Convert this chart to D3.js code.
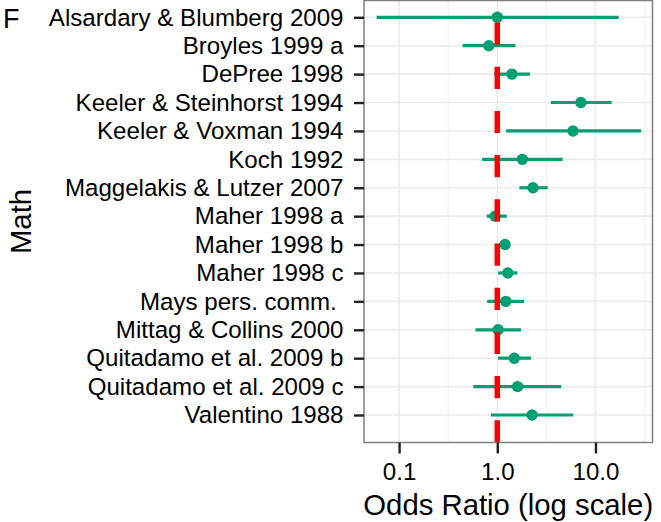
<!DOCTYPE html>
<html lang="en">
<head>
<meta charset="UTF-8">
<title>Odds ratios - Math</title>
<script src="https://cdn.jsdelivr.net/npm/d3@7"></script>
<style>
  body { margin: 0; background: #fff; }
  text { font-family: "Liberation Sans", Arial, sans-serif; fill: #000; }
</style>
</head>
<body>
<div id="box"></div>
<script>
// data
const studies = ["Alsardary & Blumberg 2009", "Broyles 1999 a", "DePree 1998",
  "Keeler & Steinhorst 1994", "Keeler & Voxman 1994", "Koch 1992",
  "Maggelakis & Lutzer 2007", "Maher 1998 a", "Maher 1998 b", "Maher 1998 c",
  "Mays pers. comm. ", "Mittag & Collins 2000", "Quitadamo et al. 2009 b",
  "Quitadamo et al. 2009 c", "Valentino 1988"];
const oddsRatio = [1.0, 0.82, 1.41, 7.1, 5.9, 1.8, 2.31, 0.95, 1.2, 1.28, 1.22, 1.02, 1.49, 1.61, 2.26];
const lower     = [0.059, 0.444, 0.93, 3.52, 1.23, 0.70, 1.68, 0.78, 1.05, 1.02, 0.79, 0.60, 1.02, 0.57, 0.86];
const upper     = [17.2, 1.53, 2.15, 14.6, 29.1, 4.63, 3.26, 1.25, 1.33, 1.60, 1.87, 1.74, 2.20, 4.45, 5.94];
const xTicks = [0.1, 1, 10];
const xMinor = [0.316, 3.16, 31.6];
const nullValue = 1;

const svg = d3.select("#box").append("svg").attr("width", 661).attr("height", 522);
svg.append("rect").attr("width", 661).attr("height", 522).attr("fill", "#fff");

const panel = {left: 364, right: 652.5, top: 0.5, bottom: 442.5};
const fontSize = 24.1;

// scales
const x = d3.scaleLog().domain([0.0439, 38.1]).range([panel.left, panel.right]);
const y = d3.scalePoint().domain(studies).range([17.3, 415]);

const rows = studies.map((s, i) => ({name: s, or: oddsRatio[i], lo: lower[i], hi: upper[i]}));

// panel background + grid
svg.append("rect")
  .attr("x", panel.left).attr("y", panel.top)
  .attr("width", panel.right - panel.left).attr("height", panel.bottom - panel.top)
  .attr("fill", "#fff");

svg.append("g").selectAll("line").data(xMinor).join("line")
  .attr("x1", d => x(d)).attr("x2", d => x(d))
  .attr("y1", panel.top).attr("y2", panel.bottom)
  .attr("stroke", "#f3f3f3").attr("stroke-width", 1.2);

svg.append("g").selectAll("line").data(xTicks).join("line")
  .attr("x1", d => x(d)).attr("x2", d => x(d))
  .attr("y1", panel.top).attr("y2", panel.bottom)
  .attr("stroke", "#ebebeb").attr("stroke-width", 1.6);

svg.append("g").selectAll("line").data(studies).join("line")
  .attr("x1", panel.left).attr("x2", panel.right)
  .attr("y1", d => y(d)).attr("y2", d => y(d))
  .attr("stroke", "#ebebeb").attr("stroke-width", 1.6);

// confidence intervals
const green = "#009e73";
svg.append("g").selectAll("line").data(rows).join("line")
  .attr("x1", d => x(d.lo)).attr("x2", d => x(d.hi))
  .attr("y1", d => y(d.name)).attr("y2", d => y(d.name))
  .attr("stroke", green).attr("stroke-width", 3.2);

svg.append("g").selectAll("circle").data(rows).join("circle")
  .attr("cx", d => x(d.or)).attr("cy", d => y(d.name))
  .attr("r", 5.7).attr("fill", green);

// dashed line at OR = 1, drawn bottom to top so the dashes start at the bottom
svg.append("line")
  .attr("x1", x(nullValue)).attr("x2", x(nullValue))
  .attr("y1", panel.bottom).attr("y2", panel.top)
  .attr("stroke", "#ff0000").attr("stroke-width", 5.5)
  .attr("stroke-dasharray", "22.2,22");

// border
svg.append("rect")
  .attr("x", panel.left).attr("y", panel.top)
  .attr("width", panel.right - panel.left).attr("height", panel.bottom - panel.top)
  .attr("fill", "none").attr("stroke", "#7f7f7f").attr("stroke-width", 1.5);

// axes
const yAxis = d3.axisLeft(y).tickSize(10).tickPadding(10.5);
const gy = svg.append("g").attr("transform", `translate(${panel.left},0)`).call(yAxis);
gy.select(".domain").remove();
gy.selectAll(".tick line").attr("stroke", "#222").attr("stroke-width", 2.4);
gy.selectAll(".tick text")
  .attr("font-size", fontSize)
  .attr("fill", "#000")
  .attr("xml:space", "preserve");

const xAxis = d3.axisBottom(x).tickValues(xTicks).tickFormat(d3.format(".1f"))
  .tickSize(11).tickPadding(9);
const gx = svg.append("g").attr("transform", `translate(0,${panel.bottom})`).call(xAxis);
gx.select(".domain").remove();
gx.selectAll(".tick line").attr("stroke", "#222").attr("stroke-width", 2.4);
gx.selectAll(".tick text")
  .attr("font-size", fontSize)
  .attr("fill", "#000");

// titles
svg.append("text").text("Odds Ratio (log scale)")
  .attr("x", (panel.left + panel.right) / 2).attr("y", 515)
  .attr("text-anchor", "middle").attr("font-size", 29.3);

svg.append("text").text("Math")
  .attr("transform", `translate(31,${(panel.top + panel.bottom) / 2}) rotate(-90)`)
  .attr("text-anchor", "middle").attr("font-size", 29.3);

svg.append("text").text("F")
  .attr("x", 3).attr("y", 28).attr("font-size", 27);
</script>
</body>
</html>
